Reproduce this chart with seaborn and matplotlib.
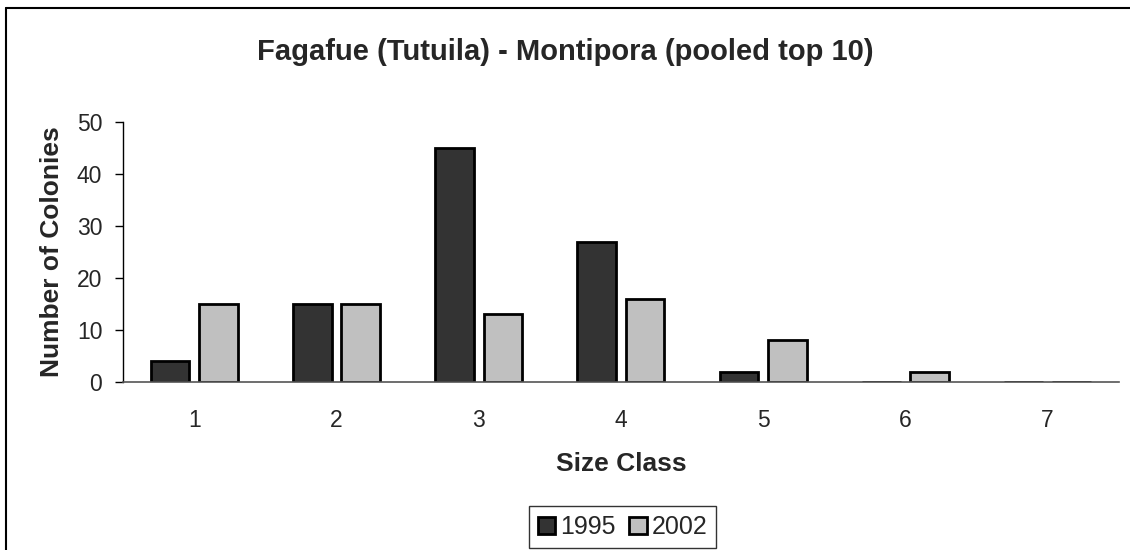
import pandas as pd
import matplotlib
matplotlib.use("Agg")
import matplotlib.pyplot as plt
import seaborn as sns

# data
size_classes = ["1", "2", "3", "4", "5", "6", "7"]
counts_1995 = [4, 15, 45, 27, 2, 0, 0]
counts_2002 = [15, 15, 13, 16, 8, 2, 0]
years = ["1995", "2002"]

df = pd.DataFrame({
    "Size Class": size_classes * 2,
    "Colonies": counts_1995 + counts_2002,
    "Year": [years[0]] * len(size_classes) + [years[1]] * len(size_classes),
})

sns.set_style("white")
plt.rcParams["font.family"] = ["Liberation Sans", "DejaVu Sans"]

fig = plt.figure(figsize=(11.3, 5.5), dpi=100)
ax = fig.add_axes([0.109, 0.3055, 0.881, 0.4725])

sns.barplot(data=df, x="Size Class", y="Colonies", hue="Year",
            palette=["#333333", "#c0c0c0"], width=0.68, gap=0.2,
            edgecolor="black", linewidth=2, ax=ax, legend=True)

ax.set_xlim(-0.5, 6.5)
ax.set_ylim(0, 50)
ax.set_yticks([0, 10, 20, 30, 40, 50])
ax.tick_params(axis="y", which="both", left=True, length=6, width=1,
               labelsize=16.5, pad=9, color="black")
ax.tick_params(axis="x", bottom=False, labelsize=16.5, pad=16)
for s in ["top", "right"]:
    ax.spines[s].set_visible(False)
ax.spines["left"].set_color("black")
ax.spines["left"].set_linewidth(1)
ax.spines["bottom"].set_color("#555555")
ax.spines["bottom"].set_linewidth(1.2)

ax.set_xlabel("Size Class", fontsize=19, fontweight="bold", labelpad=14)
ax.set_ylabel("Number of Colonies", fontsize=19, fontweight="bold", labelpad=9)
fig.suptitle("Fagafue (Tutuila) - Montipora (pooled top 10)",
             fontsize=21, fontweight="bold", y=0.93)

handles, labels = ax.get_legend_handles_labels()
ax.get_legend().remove()
leg = fig.legend(handles, labels, loc="lower center", ncol=2,
                 bbox_to_anchor=(0.551, 0.004), frameon=True, fancybox=False,
                 edgecolor="black", fontsize=18, handlelength=0.7,
                 handleheight=0.7, handletextpad=0.2, columnspacing=0.55,
                 borderpad=0.35, borderaxespad=0)
leg.get_frame().set_linewidth(1)

# chart border (top and left visible)
fig.add_artist(plt.Line2D([0.005, 1.0], [0.985, 0.985], color="black", lw=1.5,
                          transform=fig.transFigure))
fig.add_artist(plt.Line2D([0.005, 0.005], [0.0, 0.985], color="black", lw=1.5,
                          transform=fig.transFigure))

fig.savefig("out.png", dpi=100)
